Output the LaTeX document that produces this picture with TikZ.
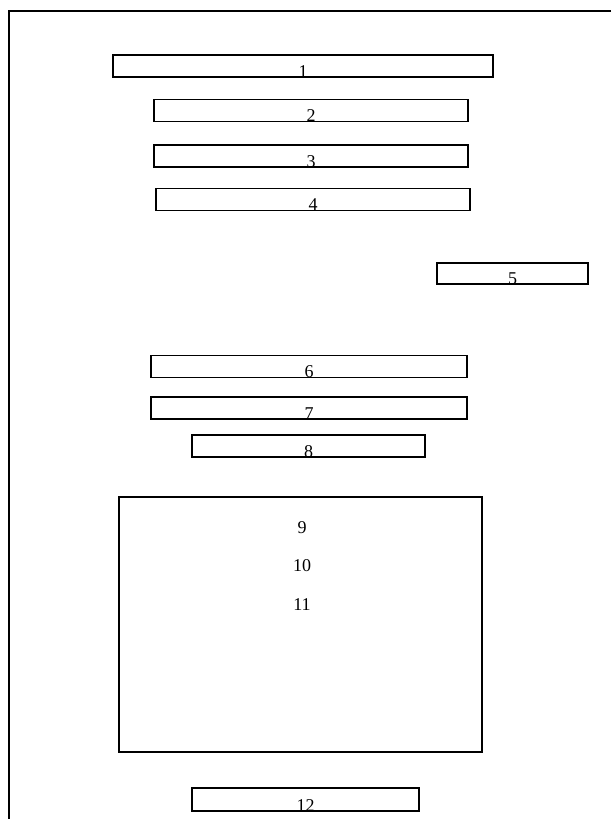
\documentclass[tikz,border=0pt]{standalone}
\usepackage{fontspec}
\setmainfont{Liberation Serif}
\usetikzlibrary{positioning}

\begin{document}
\begin{tikzpicture}[x=1pt,y=-1pt,
  bar/.style={draw,line width=1.4pt,inner sep=0pt,text height=22pt,text depth=0pt,
    minimum height=22pt,font=\fontsize{18}{21}\selectfont},
  num/.style={anchor=base,inner sep=0pt,font=\fontsize{18}{21}\selectfont}]
  \useasboundingbox (0,0) rectangle (611,819);
  % frame
  \coordinate (ftr) at (611,11);
  \coordinate (ftl) at (9,11);
  \coordinate (fbl) at (9,819);
  \draw[line width=1.4pt] (ftr) -- (ftl) -- (fbl);
  % bars
  \node[bar,minimum width=380pt] (r1) at (303,66) {1};
  \node[bar,minimum width=314pt] (r2) at (311,110.5) {2};
  \node[bar,minimum width=314pt] (r3) at (311,156) {3};
  \node[bar,minimum width=314pt] (r4) at (313,199.5) {4};
  \node[bar,minimum width=151pt,text height=21pt,minimum height=21pt] (r5) at (512.5,273.5) {5};
  \node[bar,minimum width=316pt] (r6) at (309,366.5) {6};
  \node[bar,minimum width=316pt] (r7) at (309,408) {7};
  \node[bar,minimum width=233pt] (r8) at (308.5,446) {8};
  % big box
  \node[draw,line width=1.4pt,minimum width=363pt,minimum height=255pt] (big) at (300.5,624.5) {};
  \node[num] (t9) at (302,533) {9};
  \node[num] (t10) at (302,571) {10};
  \node[num] (t11) at (302,610) {11};
  \node[bar,minimum width=227pt,text height=23pt,minimum height=23pt] (r12) at (305.5,799.5) {12};
\end{tikzpicture}
\end{document}
